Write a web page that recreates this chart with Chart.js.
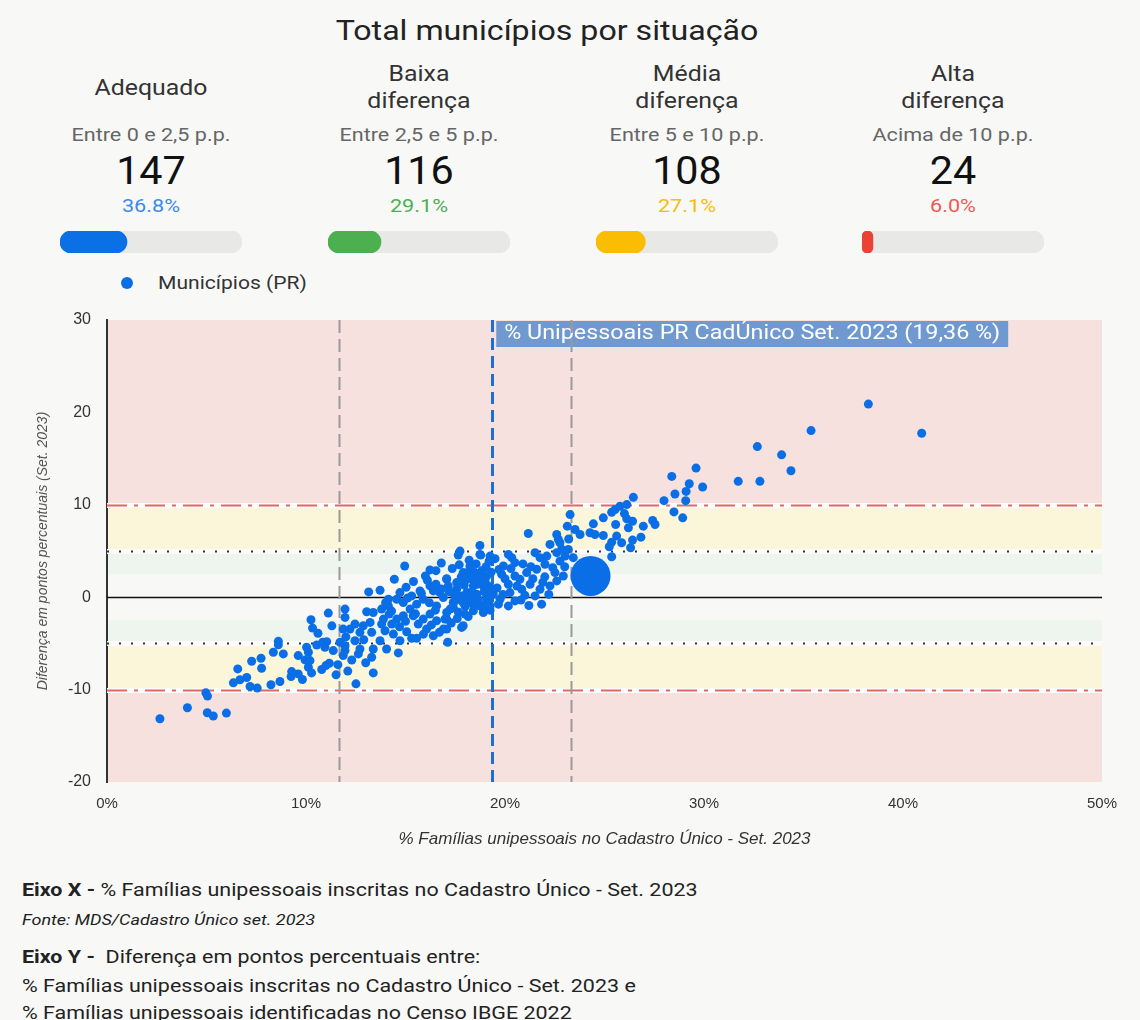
<!DOCTYPE html>
<html lang="pt-BR">
<head>
<meta charset="utf-8">
<title>Total municípios por situação</title>
<script src="https://cdn.jsdelivr.net/npm/chart.js@4.4.1/dist/chart.umd.min.js"></script>
<style>
html,body{margin:0;padding:0;}
body{width:1140px;height:1020px;background:#f8f9f7;font-family:Roboto,"Noto Sans",Arial,sans-serif;position:relative;overflow:hidden;color:#222;}
.t{position:absolute;white-space:nowrap;}
#mainTitle{left:0;width:1094px;top:13px;text-align:center;font-size:27px;line-height:36px;color:#222;transform:scaleX(1.19);}
.ctitle{width:260px;height:54px;display:flex;align-items:center;justify-content:center;text-align:center;font-size:22px;line-height:27px;color:#333;white-space:pre-line;transform:scaleX(1.13);}
.crange{width:260px;text-align:center;font-size:18px;line-height:24px;color:#666;transform:scaleX(1.2);}
.cnum{width:260px;text-align:center;font-size:39px;line-height:44px;color:#111;transform:scaleX(1.06);}
.cpct{width:260px;text-align:center;font-size:19px;line-height:24px;transform:scaleX(1.14);}
canvas{position:absolute;display:block;}
#legDot{position:absolute;left:121px;top:277px;width:12px;height:12px;border-radius:50%;background:#0a6fe6;}
#legText{left:158px;top:271px;font-size:18px;line-height:24px;color:#333;transform:scaleX(1.17);transform-origin:0 50%;}
.note{left:22px;font-size:19px;line-height:26px;color:#222;transform:scaleX(1.13);transform-origin:0 50%;}
.src{left:22px;font-size:15px;line-height:20px;font-style:italic;color:#222;transform:scaleX(1.2);transform-origin:0 50%;}
</style>
</head>
<body>
<div id="mainTitle" class="t">Total municípios por situação</div>
<div id="cards"></div>
<div id="legDot"></div>
<div id="legText" class="t">Municípios (PR)</div>
<canvas id="scatter" width="1140" height="560" style="left:0;top:300px;"></canvas>
<div class="t note" style="top:877px;"><b>Eixo X -</b> % Famílias unipessoais inscritas no Cadastro Único - Set. 2023</div>
<div class="t src" style="top:910px;">Fonte: MDS/Cadastro Único set. 2023</div>
<div class="t note" style="top:944px;"><b>Eixo Y -</b>&nbsp; Diferença em pontos percentuais entre:</div>
<div class="t note" style="top:973px;">% Famílias unipessoais inscritas no Cadastro Único - Set. 2023 e</div>
<div class="t note" style="top:1000px;">% Famílias unipessoais identificadas no Censo IBGE 2022</div>
<script>
// ---------- Card data ----------
const cardTitles   = ['Adequado', 'Baixa\ndiferença', 'Média\ndiferença', 'Alta\ndiferença'];
const cardRanges   = ['Entre 0 e 2,5 p.p.', 'Entre 2,5 e 5 p.p.', 'Entre 5 e 10 p.p.', 'Acima de 10 p.p.'];
const cardCounts   = [147, 116, 108, 24];
const cardPercents = [36.8, 29.1, 27.1, 6.0];

// ---------- Scatter data (x: % famílias unipessoais CadÚnico, y: diferença p.p.) ----------
const muniX = [
 11.12,10.25,10.33,8.61,8.61,8.36,8.86,9.61,10.03,10.12,10.54,10.84,11.04,10.95,11.37,7.27,7.74,7.77,6.57,7.02,
 6.68,6.35,7.19,7.55,8.24,8.69,9.28,9.25,9.61,9.82,9.95,10.2,10.12,10.28,10.79,11.0,11.17,11.51,4.97,5.05,
 4.04,5.04,5.34,6.0,2.66,
 17.65,18.78,14.96,16.23,16.53,14.44,15.03,16.1,13.72,13.15,17.07,16.53,16.4,17.57,17.9,18.24,18.58,18.91,18.08,18.41,
 18.74,19.08,18.91,17.99,17.82,17.07,16.56,16.9,15.89,15.56,15.23,14.89,14.56,14.14,13.8,14.18,13.89,14.31,14.56,14.89,
 15.39,15.64,15.89,16.23,16.56,16.06,16.4,16.98,17.07,17.12,15.31,15.56,15.06,14.72,14.39,13.97,13.8,13.72,14.05,14.64,
 13.38,13.3,13.38,12.51,13.05,11.96,11.96,12.46,12.88,13.22,12.21,11.87,12.71,13.3,12.46,11.96,11.71,11.87,11.96,12.71,
 12.63,17.57,17.4,17.82,17.24,16.73,16.23,15.73,15.31,14.72,14.14,13.38,
 21.17,22.6,22.68,22.26,18.74,17.74,18.74,19.25,19.5,20.17,20.34,20.5,21.51,21.76,22.1,22.6,22.76,22.01,21.59,22.51,
 22.93,22.6,22.26,21.76,21.26,20.84,20.75,21.09,20.5,20.17,20.25,21.51,21.84,20.17,19.67,19.75,19.92,19.83,17.07,17.15,
 18.24,18.16,18.49,18.74,19.08,18.41,18.58,19.08,17.82,18.24,18.74,19.25,18.41,18.91,17.4,17.07,17.9,16.9,19.16,19.41,
 29.6,28.38,29.26,29.93,29.1,28.54,27.99,29.08,26.45,26.12,25.78,25.53,25.36,28.49,28.93,26.0,26.12,24.94,24.44,23.27,
 23.13,23.52,23.77,24.27,24.52,24.94,25.56,26.41,26.2,26.95,27.42,27.54,26.83,26.41,25.61,25.36,25.86,25.24,26.31,25.36,
 22.76,23.18,23.43,23.02,
 38.26,40.94,35.38,32.68,33.9,34.37,31.72,32.81,
 17.7,17.95,18.1,18.3,18.55,18.65,18.85,19.0,19.2,19.3,18.0,18.35,17.8,19.05,18.6,17.45,18.95,19.25,18.15,17.65,
 19.6,19.7,20.0,20.3,19.9,20.6,20.9,21.3,20.8,21.0,
 14.3,14.7,15.1,15.5,15.8,16.2,16.5,16.8,15.0,14.0,16.3,15.9,16.7,17.3,17.5,17.2,16.0,15.4,17.35,16.8,
 18.2,18.45,18.75,19.1,19.3,17.6,18.0,19.2,18.5,17.9,
 21.4,22.0,22.4,21.9,20.5,21.2,22.2,23.0,22.85,23.2,
 10.6,11.3,12.0,12.3,11.6,12.9,12.1,13.0
];
const muniY = [
 -1.72,-2.44,-3.34,-4.78,-5.14,-5.96,-6.14,-6.32,-5.42,-5.96,-5.17,-4.88,-4.81,-5.42,-5.78,-6.93,-6.61,-7.69,-7.76,-8.69,
 -8.94,-9.27,-9.66,-9.84,-9.48,-9.12,-8.05,-8.59,-8.3,-8.91,-6.79,-6.86,-7.58,-8.19,-7.83,-7.4,-7.15,-8.4,-10.34,-10.7,
 -11.96,-12.5,-12.86,-12.54,-13.15,
 4.56,4.56,3.38,2.95,2.87,1.94,1.08,1.83,0.75,0.57,2.01,1.4,0.68,1.58,2.66,3.02,1.94,1.22,0.5,-0.22,
 -0.94,-0.22,-1.29,-1.83,-3.27,-1.65,-0.94,-0.03,-0.22,-0.75,-1.29,-0.57,-0.22,-0.94,-1.29,-1.83,-2.37,-2.91,-2.37,-2.01,
 -2.01,-2.91,-2.37,-1.83,-2.55,-3.45,-4.17,-2.37,-3.45,-4.88,-4.45,-4.45,-3.74,-4.71,-3.99,-3.63,-2.91,-4.71,-5.6,-6.03,
 -5.6,-6.5,-8.19,-9.38,-1.58,-1.29,-2.19,-2.91,-3.09,-2.73,-3.45,-3.45,-3.8,-3.8,-4.71,-5.25,-4.88,-6.32,-5.78,-5.6,
 -6.14,0.86,-0.57,0.14,-1.29,0.5,1.22,0.68,0.14,0.5,-0.22,-1.65,
 6.9,6.79,6.25,5.71,5.6,4.99,4.63,4.45,4.17,4.63,4.28,3.74,4.82,4.28,4.45,4.82,3.91,3.56,3.02,2.66,
 2.3,1.76,1.22,0.86,1.4,0.86,1.94,2.66,2.3,1.4,0.5,0.14,-0.75,-0.94,-0.75,-0.22,3.38,2.48,1.94,1.22,
 3.38,2.3,2.66,1.94,2.3,1.22,0.32,0.14,-0.22,-0.57,-0.75,-0.94,-1.47,-1.65,-1.11,-2.37,-3.09,-3.45,1.22,0.32,
 13.97,13.07,12.28,11.93,11.45,11.17,10.45,10.45,10.81,10.02,9.84,9.48,9.19,9.23,8.59,9.05,8.48,8.59,7.94,8.94,
 7.69,7.33,6.79,6.97,6.79,6.68,7.87,8.22,7.51,7.69,8.3,7.87,6.5,6.18,6.61,5.96,5.89,5.46,5.35,4.38,
 5.89,5.17,4.28,4.45,
 20.9,17.74,18.03,16.3,15.41,13.69,12.54,12.54,
 3.5,1.3,-0.1,2.0,3.6,-0.2,2.9,1.7,-0.4,2.7,-1.0,0.6,2.2,3.3,1.4,0.3,0.6,-1.4,-2.1,-1.6,
 1.0,3.0,2.0,3.1,0.3,1.2,3.6,3.3,-0.3,0.2,
 -1.5,-3.2,-0.1,-1.8,0.4,-0.6,-1.4,0.9,-2.6,-0.6,-3.0,-4.0,-3.8,-2.8,-0.4,0.6,2.3,1.7,3.1,3.7,
 4.0,-1.0,2.5,-0.7,1.0,-2.3,1.8,3.9,0.1,-0.6,
 2.0,2.2,3.2,1.6,-0.4,-0.9,0.3,3.3,5.2,6.3,
 -3.9,-3.1,-4.3,-6.8,-7.3,-4.6,-8.0,-7.1
];
// Paraná (state) point
const stateX = [24.3];
const stateY = [2.3];

// Reference values
const refPR = 19.36;              // % unipessoais PR CadÚnico
const guideX = [11.66, 23.3];     // gray dashed guides
const bandLimits = [2.5, 5, 10];  // thresholds (p.p.)
const xTicks = [0, 10, 20, 30, 40, 50];
const yTicks = [-20, -10, 0, 10, 20, 30];
const refLabel = '% Unipessoais PR CadÚnico Set. 2023 (19,36 %)';

// ---------- Cards ----------
const cardCenters = [151, 419, 687, 953];
const barColors = ['#0b6fe6', '#4caf50', '#fbbc04', '#ea4335'];
const pctColors = ['#3a8af3', '#4caf50', '#fbbc04', '#ef5a50'];
const cards = document.getElementById('cards');
cardTitles.forEach((title, i) => {
  const cx = cardCenters[i];
  const mk = (cls, top, txt, color) => {
    const d = document.createElement('div');
    d.className = 't ' + cls;
    d.style.left = (cx - 130) + 'px';
    d.style.top = top + 'px';
    d.textContent = txt;
    if (color) d.style.color = color;
    cards.appendChild(d);
  };
  mk('ctitle', 60, title);
  mk('crange', 123, cardRanges[i]);
  mk('cnum', 149, String(cardCounts[i]));
  mk('cpct', 194, cardPercents[i].toFixed(1) + '%', pctColors[i]);
  const cv = document.createElement('canvas');
  cv.width = 182; cv.height = 22;
  cv.style.left = (cx - 91) + 'px';
  cv.style.top = '231px';
  document.body.appendChild(cv);
  new Chart(cv, {
    type: 'bar',
    data: {
      labels: [cardTitles[i]],
      datasets: [
        {data: [cardPercents[i]], backgroundColor: barColors[i], borderRadius: 11, borderSkipped: false,
         grouped: false, barPercentage: 1, categoryPercentage: 1, order: 1},
        {data: [100], backgroundColor: '#e8e8e7', borderRadius: 11, borderSkipped: false,
         grouped: false, barPercentage: 1, categoryPercentage: 1, order: 2}
      ]
    },
    options: {
      indexAxis: 'y', responsive: false, animation: false, events: [],
      layout: {padding: 0},
      plugins: {legend: {display: false}, tooltip: {enabled: false}},
      scales: {x: {display: false, min: 0, max: 100}, y: {display: false}}
    }
  });
});

// ---------- Scatter ----------
const bands = [
  {from: bandLimits[2], to: 30, color: '#f6e1df'},
  {from: -20, to: -bandLimits[2], color: '#f6e1df'},
  {from: bandLimits[1], to: bandLimits[2], color: '#fbf5da'},
  {from: -bandLimits[2], to: -bandLimits[1], color: '#fbf5da'},
  {from: bandLimits[0], to: bandLimits[1], color: '#eef5ee'},
  {from: -bandLimits[1], to: -bandLimits[0], color: '#eef5ee'}
];

const refPlugin = {
  id: 'refs',
  beforeDraw(chart) {
    const {ctx, chartArea: a, scales: {y}} = chart;
    ctx.save();
    bands.forEach(b => {
      const p1 = y.getPixelForValue(b.to), p2 = y.getPixelForValue(b.from);
      ctx.fillStyle = b.color;
      ctx.fillRect(a.left, p1, a.right - a.left, p2 - p1);
    });
    ctx.restore();
  },
  beforeDatasetsDraw(chart) {
    const {ctx, chartArea: a, scales: {x, y}} = chart;
    ctx.save();
    const hline = (v, color, width, dash) => {
      const py = Math.round(y.getPixelForValue(v)) + 0.5;
      ctx.strokeStyle = color; ctx.lineWidth = width; ctx.setLineDash(dash);
      ctx.beginPath(); ctx.moveTo(a.left, py); ctx.lineTo(a.right, py); ctx.stroke();
    };
    const vline = (v, color, width, dash) => {
      const px = Math.round(x.getPixelForValue(v)) + 0.5;
      ctx.strokeStyle = color; ctx.lineWidth = width; ctx.setLineDash(dash);
      ctx.beginPath(); ctx.moveTo(px, a.top); ctx.lineTo(px, a.bottom); ctx.stroke();
    };
    // white separators
    [bandLimits[2], -bandLimits[2], bandLimits[1], -bandLimits[1]].forEach(v => hline(v, '#fbfbfa', 5, []));
    // reference label box (text stretched horizontally like the original)
    const sx = 1.165;
    ctx.font = '20px Roboto, "Noto Sans", sans-serif';
    const tw = ctx.measureText(refLabel).width * sx;
    const bx = x.getPixelForValue(refPR) + 4;
    ctx.fillStyle = '#7099cf';
    ctx.fillRect(bx, a.top + 1, tw + 16, 26);
    ctx.save();
    ctx.translate(bx + 8, a.top + 14);
    ctx.scale(sx, 1);
    ctx.fillStyle = '#ffffff';
    ctx.textBaseline = 'middle';
    ctx.fillText(refLabel, 0, 0);
    ctx.restore();
    // threshold lines
    hline(bandLimits[2], '#e06a66', 2, [20, 7, 4, 7]);
    hline(-bandLimits[2], '#e06a66', 2, [20, 7, 4, 7]);
    hline(bandLimits[1], '#333', 2, [2, 10]);
    hline(-bandLimits[1], '#333', 2, [2, 10]);
    hline(0, '#111', 1.5, []);
    guideX.forEach(v => vline(v, '#9a9a9a', 2, [13, 6]));
    vline(refPR, '#1f6fd2', 3, [12, 6]);
    ctx.restore();
  }
};

new Chart(document.getElementById('scatter'), {
  type: 'scatter',
  data: {
    datasets: [
      {label: 'Municípios (PR)', data: muniX.map((v, i) => ({x: v, y: muniY[i]})),
       backgroundColor: '#0a6fe6', borderWidth: 0, pointRadius: 4.5, order: 1},
      {label: 'Paraná', data: stateX.map((v, i) => ({x: v, y: stateY[i]})),
       backgroundColor: '#0a6fe6', borderWidth: 0, pointRadius: 20, order: 0}
    ]
  },
  options: {
    responsive: false, animation: false, events: [],
    layout: {padding: {top: 18, right: 38, bottom: 0, left: 0}},
    plugins: {legend: {display: false}, tooltip: {enabled: false}},
    scales: {
      x: {
        type: 'linear', min: xTicks[0], max: xTicks[xTicks.length - 1],
        afterBuildTicks: s => { s.ticks = xTicks.map(v => ({value: v})); },
        ticks: {callback: v => v + '%', color: '#333', font: {size: 15}, padding: 13, maxRotation: 0},
        grid: {display: false, drawTicks: false}, border: {display: false},
        title: {display: true, text: '% Famílias unipessoais no Cadastro Único - Set. 2023',
                color: '#333', font: {size: 17, style: 'italic'}, padding: {top: 0, bottom: 11}},
        afterFit: s => { s.height = 78; }
      },
      y: {
        min: yTicks[0], max: yTicks[yTicks.length - 1],
        afterBuildTicks: s => { s.ticks = yTicks.map(v => ({value: v})); },
        ticks: {color: '#333', font: {size: 16}, padding: 2},
        grid: {display: false, drawTicks: true, tickLength: 14}, border: {display: true, color: '#333', width: 2},
        title: {display: true, text: 'Diferença em pontos percentuais (Set. 2023)',
                color: '#555', font: {size: 14, style: 'italic'}, padding: {top: 35}},
        afterFit: s => { s.width = 107; }
      }
    }
  },
  plugins: [refPlugin]
});
</script>
</body>
</html>
